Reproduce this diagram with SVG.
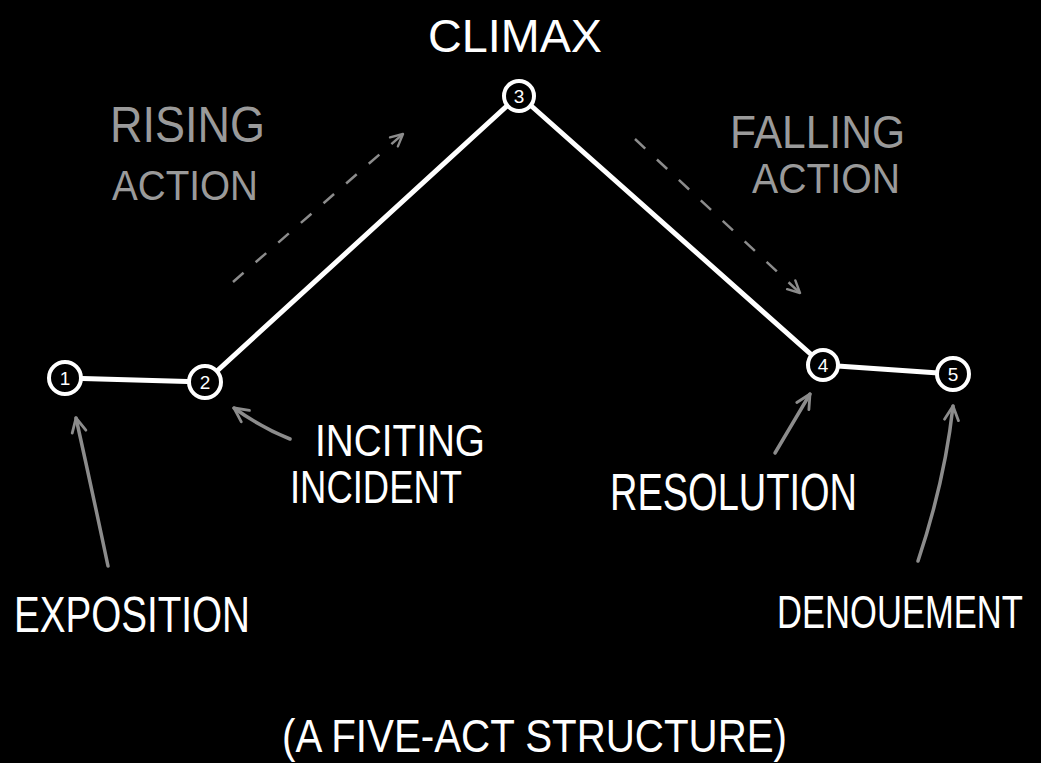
<svg xmlns="http://www.w3.org/2000/svg" width="1041" height="763" viewBox="0 0 1041 763">
  <style>
    .lbl { font-family: "Liberation Sans", Arial, sans-serif; fill: #ffffff; }
    .gray { fill: #9a9a9a; }
    .num { font-family: "Liberation Sans", Arial, sans-serif; font-size: 19px; fill: #ffffff; text-anchor: middle; }
    .node { fill: #000000; stroke: #ffffff; stroke-width: 4; }
    .main { fill: none; stroke: #ffffff; stroke-width: 5; stroke-linecap: round; stroke-linejoin: round; }
    .ptr { fill: none; stroke: #8c8c8c; stroke-width: 3.5; stroke-linecap: round; }
    .dash { fill: none; stroke: #8c8c8c; stroke-width: 2.5; stroke-dasharray: 14 16; }
  </style>
  <defs>
    <marker id="head" viewBox="0 0 10 10" refX="9" refY="5" markerWidth="5" markerHeight="5" markerUnits="strokeWidth" orient="auto">
      <path d="M1 1 L9 5 L1 9" fill="none" stroke="#8c8c8c" stroke-width="1.6" stroke-linecap="round" stroke-linejoin="round"/>
    </marker>
    <marker id="dhead" viewBox="0 0 10 10" refX="9" refY="5" markerWidth="6" markerHeight="6" markerUnits="strokeWidth" orient="auto">
      <path d="M1 1 L9 5 L1 9" fill="none" stroke="#8c8c8c" stroke-width="1.6" stroke-linecap="round" stroke-linejoin="round"/>
    </marker>
  </defs>
  <rect x="0" y="0" width="1041" height="763" fill="#000000"/>

  <g id="connectors">
    <polyline class="main" points="65,378 205,382 519,95 823,365 953,374"/>
    <path class="dash" d="M233,282 L403,134" marker-end="url(#dhead)"/>
    <path class="dash" d="M635,139 L800,293" marker-end="url(#dhead)"/>
    <path class="ptr" d="M108,566 Q92,490 76,418" marker-end="url(#head)"/>
    <path class="ptr" d="M290,439 Q262,428 234,408" marker-end="url(#head)"/>
    <path class="ptr" d="M775,453 L810,394" marker-end="url(#head)"/>
    <path class="ptr" d="M918,561 Q945,480 953,406" marker-end="url(#head)"/>
  </g>

  <g id="node1"><circle class="node" cx="65" cy="378" r="16"/><text class="num" x="65" y="385">1</text></g>
  <g id="node2"><circle class="node" cx="205" cy="382" r="16"/><text class="num" x="205" y="389">2</text></g>
  <g id="node3"><circle class="node" cx="519" cy="96" r="15"/><text class="num" x="519" y="103">3</text></g>
  <g id="node4"><circle class="node" cx="823" cy="365" r="15"/><text class="num" x="823" y="372">4</text></g>
  <g id="node5"><circle class="node" cx="953" cy="374" r="16"/><text class="num" x="953" y="381">5</text></g>

  <g id="labels">
    <text class="lbl" x="428" y="52" font-size="46" textLength="174" lengthAdjust="spacingAndGlyphs">CLIMAX</text>
    <text class="lbl gray" x="110" y="142" font-size="50" textLength="155" lengthAdjust="spacingAndGlyphs">RISING</text>
    <text class="lbl gray" x="112" y="200" font-size="42" textLength="146" lengthAdjust="spacingAndGlyphs">ACTION</text>
    <text class="lbl gray" x="730" y="148" font-size="46" textLength="175" lengthAdjust="spacingAndGlyphs">FALLING</text>
    <text class="lbl gray" x="752" y="193" font-size="42" textLength="148" lengthAdjust="spacingAndGlyphs">ACTION</text>
    <text class="lbl" x="315" y="456" font-size="44" textLength="170" lengthAdjust="spacingAndGlyphs">INCITING</text>
    <text class="lbl" x="290" y="503" font-size="46" textLength="172" lengthAdjust="spacingAndGlyphs">INCIDENT</text>
    <text class="lbl" x="14" y="632" font-size="50" textLength="236" lengthAdjust="spacingAndGlyphs">EXPOSITION</text>
    <text class="lbl" x="610" y="510" font-size="52" textLength="247" lengthAdjust="spacingAndGlyphs">RESOLUTION</text>
    <text class="lbl" x="0" y="0" font-size="46" transform="translate(777,628) scale(0.752,1)">DENOUEMENT</text>
    <text class="lbl" x="282" y="752" font-size="46" textLength="505" lengthAdjust="spacingAndGlyphs">(A FIVE-ACT STRUCTURE)</text>
  </g>
</svg>
